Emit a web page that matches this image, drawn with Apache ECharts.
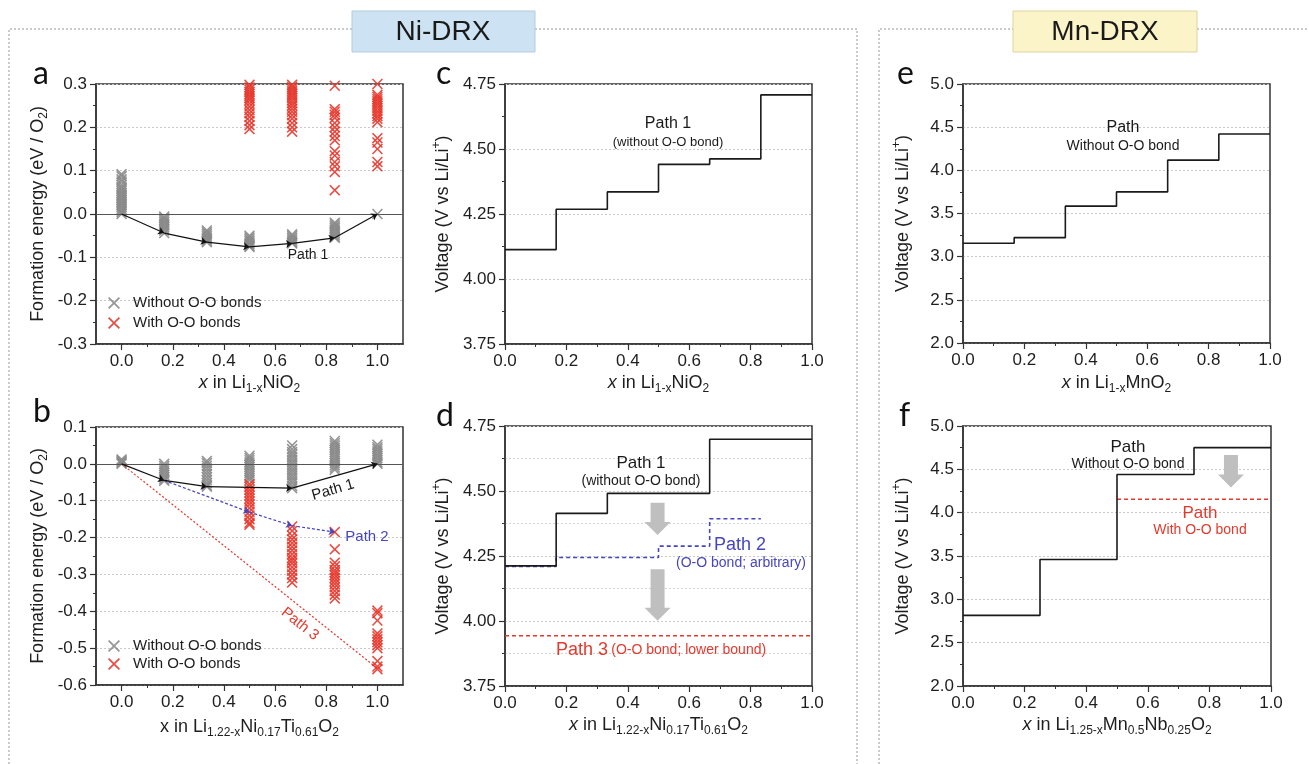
<!DOCTYPE html>
<html><head><meta charset="utf-8">
<script src="https://cdn.jsdelivr.net/npm/echarts@6/dist/echarts.min.js"></script>
<style>html,body{margin:0;padding:0;background:#fff}#c{width:1309px;height:764px}</style>
</head><body><div id="c"></div><script>
// ---------- data ----------
const xPts = [0, 1/6, 1/3, 1/2, 2/3, 5/6, 1];
const xMajor = [0, 0.2, 0.4, 0.6, 0.8, 1.0];
const xMinor = [0.1, 0.3, 0.5, 0.7, 0.9];

// panel a : Li1-xNiO2 formation energies, grouped by xPts
const aWithout = [
  [0.092,0.087,0.080,0.075,0.068,0.062,0.058,0.053,0.048,0.044,0.040,0.036,0.032,0.028,0.024,0.020,0.016,0.012,0.008,0.004,0.0],
  [-0.006,-0.010,-0.014,-0.018,-0.022,-0.026,-0.030,-0.034,-0.038,-0.044],
  [-0.038,-0.042,-0.046,-0.050,-0.054,-0.058,-0.062,-0.065],
  [-0.050,-0.054,-0.058,-0.062,-0.066,-0.070,-0.074,-0.076],
  [-0.047,-0.051,-0.055,-0.059,-0.063,-0.066,-0.068],
  [-0.020,-0.024,-0.028,-0.032,-0.036,-0.040,-0.044,-0.048,-0.052,-0.055],
  [0.0]
];
const aWith = [
  [], [], [],
  [0.298,0.292,0.287,0.282,0.277,0.272,0.267,0.262,0.255,0.248,0.240,0.232,0.224,0.215,0.205,0.196],
  [0.298,0.293,0.288,0.283,0.278,0.273,0.268,0.262,0.256,0.250,0.243,0.236,0.228,0.220,0.210,0.200,0.190],
  [0.296,0.242,0.236,0.229,0.222,0.210,0.200,0.190,0.180,0.170,0.145,0.135,0.120,0.110,0.097,0.055],
  [0.300,0.275,0.270,0.265,0.260,0.255,0.250,0.244,0.238,0.232,0.226,0.220,0.212,0.175,0.165,0.150,0.120,0.110]
];
const aPath1X = [0, 1/6, 1/3, 1/2, 2/3, 5/6, 1];
const aPath1Y = [0, -0.044, -0.065, -0.076, -0.068, -0.055, 0];

// panel b : Li1.22-xNi0.17Ti0.61O2
const bWithout = [
  [0.012,0.009,0.006,0.003,0.0],
  [0.0,-0.006,-0.012,-0.018,-0.024,-0.030,-0.036,-0.042,-0.046],
  [0.008,0.002,-0.005,-0.012,-0.020,-0.028,-0.036,-0.044,-0.052,-0.058,-0.062],
  [0.022,0.016,0.010,0.004,-0.002,-0.008,-0.014,-0.020,-0.026,-0.032,-0.038,-0.044],
  [0.050,0.040,0.032,0.025,0.018,0.011,0.004,-0.003,-0.010,-0.017,-0.024,-0.031,-0.038,-0.045,-0.052,-0.060,-0.066],
  [0.062,0.056,0.050,0.044,0.038,0.032,0.026,0.020,0.014,0.008,0.002,-0.004,-0.010,-0.016],
  [0.052,0.045,0.040,0.034,0.028,0.022,0.016,0.010,0.004,0.0]
];
const bWith = [
  [], [], [],
  [-0.055,-0.062,-0.070,-0.078,-0.086,-0.094,-0.102,-0.110,-0.120,-0.130,-0.140,-0.150,-0.160,-0.165],
  [-0.170,-0.182,-0.195,-0.205,-0.215,-0.225,-0.235,-0.245,-0.255,-0.262,-0.270,-0.280,-0.290,-0.300,-0.310,-0.322],
  [-0.185,-0.232,-0.268,-0.278,-0.288,-0.295,-0.302,-0.310,-0.318,-0.326,-0.335,-0.345,-0.355,-0.365],
  [-0.398,-0.405,-0.425,-0.460,-0.468,-0.476,-0.484,-0.492,-0.500,-0.535,-0.550,-0.557]
];
const bPath1X = [0, 1/6, 1/3, 2/3, 1];
const bPath1Y = [0, -0.045, -0.062, -0.066, 0];
const bPath2X = [1/6, 1/2, 2/3, 5/6];
const bPath2Y = [-0.045, -0.131, -0.168, -0.185];
const bPath3X = [0, 1];
const bPath3Y = [0, -0.555];

// panel c : voltage steps, Li1-xNiO2
const cStepX = [0, 1/6, 1/3, 1/2, 2/3, 5/6];
const cStepV = [4.113, 4.268, 4.335, 4.441, 4.462, 4.708];

// panel d : voltage steps, Li1.22-xNi0.17Ti0.61O2
const dPath1X = [0, 1/6, 1/3, 2/3];
const dPath1V = [4.212, 4.414, 4.491, 4.699];
const dPath2X = [0, 1/6, 1/2, 2/3];
const dPath2V = [4.210, 4.244, 4.288, 4.393];
const dPath2End = 5/6;
const dPath3X = [0, 1];
const dPath3V = [3.943, 3.943];
const dArrows = [[0.497, 4.455, 4.331], [0.497, 4.199, 4.001]];

// panel e : Li1-xMnO2
const eStepX = [0, 1/6, 1/3, 1/2, 2/3, 5/6];
const eStepV = [3.155, 3.220, 3.585, 3.750, 4.118, 4.420];

// panel f : Li1.25-xMn0.5Nb0.25O2
const fStepX = [0, 0.25, 0.5, 0.75];
const fStepV = [2.815, 3.460, 4.440, 4.750];
const fOOX = [0.5, 1];
const fOOV = [4.155, 4.155];
const fArrows = [[0.87, 4.665, 4.29]];

// ---------- style ----------
const FONT = '"Liberation Sans", Arial, sans-serif';
const TXT = '#1e1e1e';
const AX = '#333';
const GRAY = '#8a8a8a';
const RED = '#e5392d';
const BLUE = '#4646c0';
const XSYM = 'path://M0,1L1,0L5,4L9,0L10,1L6,5L10,9L9,10L5,6L1,10L0,9L4,5Z';

const RICH = {
  s: {fontSize: 12, verticalAlign: 'bottom', lineHeight: 12, color: TXT, fontFamily: FONT},
  p: {fontSize: 12, verticalAlign: 'top', lineHeight: 12, color: TXT, fontFamily: FONT},
  i: {fontSize: 18, fontStyle: 'italic', lineHeight: 24, color: TXT, fontFamily: FONT}
};
const nameStyle = {fontSize: 18, color: TXT, fontFamily: FONT, lineHeight: 24, rich: RICH};

function fmt(v, d) { return (Math.abs(v) < 1e-9 ? 0 : v).toFixed(d); }

const grids = [
  {left: 96, top: 84, width: 307, height: 260},
  {left: 96, top: 427, width: 307, height: 258},
  {left: 505, top: 84, width: 307, height: 260},
  {left: 505, top: 426, width: 307, height: 260},
  {left: 963, top: 84, width: 307, height: 259},
  {left: 963, top: 426, width: 308, height: 260}
].map(g => Object.assign(g, {show: true, borderColor: AX, borderWidth: 1.5, backgroundColor: 'transparent'}));

function xMain(gi, name, gap, wide) {
  const ax = {
    gridIndex: gi, type: 'value', position: 'bottom', name: name, nameLocation: 'middle',
    nameGap: gap, nameTextStyle: nameStyle,
    axisLine: {show: true, onZero: false, lineStyle: {color: AX, width: 1.5}},
    axisTick: {show: true, length: 6, lineStyle: {color: AX, width: 1.2}},
    axisLabel: {fontSize: 17, color: TXT, fontFamily: FONT, margin: 9, formatter: v => fmt(v, 1)},
    splitLine: {show: false}
  };
  if (wide) {
    ax.min = -0.1; ax.max = 1.1; ax.interval = 0.1;
    ax.axisTick.customValues = xMajor;
    ax.axisLabel.customValues = xMajor;
  } else {
    ax.min = 0; ax.max = 1; ax.interval = 0.2;
    ax.minorTick = {show: true, splitNumber: 2, length: 3, lineStyle: {color: AX, width: 1}};
  }
  return ax;
}
function xMinorAx(gi) {
  return {gridIndex: gi, type: 'value', position: 'bottom', min: -0.1, max: 1.1, interval: 0.1,
    axisLine: {show: false, onZero: false}, axisLabel: {show: false}, splitLine: {show: false},
    axisTick: {show: true, length: 3, customValues: xMinor, lineStyle: {color: AX, width: 1}}};
}
function yAx(gi, min, max, interval, dec, name, gap, minorSplit) {
  return {
    gridIndex: gi, type: 'value', min: min, max: max, interval: interval,
    name: name, nameLocation: 'middle', nameGap: gap, nameTextStyle: nameStyle,
    axisLine: {show: true, onZero: false, lineStyle: {color: AX, width: 1.5}},
    axisTick: {show: true, length: 6, lineStyle: {color: AX, width: 1.2}},
    minorTick: {show: true, splitNumber: 2, length: 3, lineStyle: {color: AX, width: 1}},
    axisLabel: {fontSize: 17, color: TXT, fontFamily: FONT, margin: 9, formatter: v => fmt(v, dec)},
    splitLine: {show: true, lineStyle: {color: '#c9c9c9', type: [2, 2], width: 1}},
    minorSplitLine: {show: !!minorSplit, lineStyle: {color: '#d2d2d2', type: [2, 2], width: 1}}
  };
}

const FE = 'Formation energy (eV / O{s|2})';
const VL = 'Voltage (V vs Li/Li{p|+})';

const xAxis = [
  xMain(0, '{i|x} in Li{s|1-x}NiO{s|2}', 26, true),
  xMain(1, 'x in Li{s|1.22-x}Ni{s|0.17}Ti{s|0.61}O{s|2}', 30, true),
  xMain(2, '{i|x} in Li{s|1-x}NiO{s|2}', 27, false),
  xMain(3, '{i|x} in Li{s|1.22-x}Ni{s|0.17}Ti{s|0.61}O{s|2}', 27, false),
  xMain(4, '{i|x} in Li{s|1-}{s|x}MnO{s|2}', 28, false),
  xMain(5, '{i|x} in Li{s|1.25-x}Mn{s|0.5}Nb{s|0.25}O{s|2}', 27, false),
  xMinorAx(0),
  xMinorAx(1)
];
const yAxis = [
  yAx(0, -0.3, 0.3, 0.1, 1, FE, 46, false),
  yAx(1, -0.6, 0.1, 0.1, 1, FE, 46, false),
  yAx(2, 3.75, 4.75, 0.25, 2, VL, 50, false),
  yAx(3, 3.75, 4.75, 0.25, 2, VL, 50, true),
  yAx(4, 2.0, 5.0, 0.5, 1, VL, 48, false),
  yAx(5, 2.0, 5.0, 0.5, 1, VL, 48, false)
];

// ---------- builders ----------
function cloud(groups) {
  const d = [];
  groups.forEach((arr, i) => arr.forEach(v => d.push([xPts[i], v])));
  return d;
}
function pairs(xs, ys) { return xs.map((x, i) => [x, ys[i]]); }
function segs(xs, ys) {
  const r = [];
  for (let i = 0; i < xs.length - 1; i++) r.push({coords: [[xs[i], ys[i]], [xs[i + 1], ys[i + 1]]]});
  return r;
}
function stepData(xs, vs, end) {
  const d = pairs(xs, vs);
  d.push([end, vs[vs.length - 1]]);
  return d;
}
const zeroLine = {silent: true, symbol: 'none', label: {show: false},
  lineStyle: {color: '#555', type: 'solid', width: 1}, data: [{yAxis: 0}]};

function scatter(name, gi, groups, color, extra) {
  return Object.assign({
    type: 'scatter', name: name, xAxisIndex: gi, yAxisIndex: gi, data: cloud(groups),
    symbol: XSYM, symbolSize: 11, itemStyle: {color: color, opacity: 0.9}, silent: true, z: 2
  }, extra || {});
}
function pathLines(gi, xs, ys, color, type, arrow) {
  return {type: 'lines', coordinateSystem: 'cartesian2d', xAxisIndex: gi, yAxisIndex: gi,
    data: segs(xs, ys), symbol: arrow ? ['none', 'arrow'] : ['none', 'none'], symbolSize: 6,
    lineStyle: {color: color, width: 1.2, type: type, opacity: 1, curveness: 0}, silent: true, z: 5};
}
function stepLine(gi, data, color, type) {
  return {type: 'line', step: 'end', xAxisIndex: gi, yAxisIndex: gi, data: data, symbol: 'none',
    lineStyle: {color: color, width: 1.6, type: type}, silent: true, z: 4};
}
function arrows(gi, data) {
  return {type: 'custom', coordinateSystem: 'cartesian2d', xAxisIndex: gi, yAxisIndex: gi,
    data: data, encode: {x: 0, y: [1, 2]}, silent: true, z: 3,
    renderItem: function (params, api) {
      const top = api.coord([api.value(0), api.value(1)]);
      const tip = api.coord([api.value(0), api.value(2)]);
      const x = top[0], hw = 7, hh = 13, neck = tip[1] - 13;
      return {type: 'polygon', shape: {points: [[x - hw, top[1]], [x + hw, top[1]], [x + hw, neck],
        [x + hh, neck], [x, tip[1]], [x - hh, neck], [x - hw, neck]]}, style: {fill: '#bfbfbf'}};
    }};
}

const series = [
  scatter('Without O-O bonds', 0, aWithout, GRAY, {markLine: zeroLine}),
  scatter('With O-O bonds', 0, aWith, RED),
  pathLines(0, aPath1X, aPath1Y, '#111', 'solid', true),

  scatter('Without O-O bonds', 1, bWithout, GRAY, {markLine: zeroLine}),
  scatter('With O-O bonds', 1, bWith, RED),
  pathLines(1, bPath3X, bPath3Y, RED, [2, 2], false),
  pathLines(1, bPath2X, bPath2Y, BLUE, [3, 2], true),
  pathLines(1, bPath1X, bPath1Y, '#111', 'solid', true),

  stepLine(2, stepData(cStepX, cStepV, 1), '#1a1a1a', 'solid'),

  arrows(3, dArrows),
  {type: 'line', xAxisIndex: 3, yAxisIndex: 3, data: pairs(dPath3X, dPath3V), symbol: 'none',
    lineStyle: {color: RED, width: 1.6, type: [4, 3]}, silent: true, z: 4},
  stepLine(3, stepData(dPath2X, dPath2V, dPath2End), BLUE, [4, 3]),
  stepLine(3, stepData(dPath1X, dPath1V, 1), '#1a1a1a', 'solid'),

  stepLine(4, stepData(eStepX, eStepV, 1), '#1a1a1a', 'solid'),

  arrows(5, fArrows),
  {type: 'line', xAxisIndex: 5, yAxisIndex: 5, data: pairs(fOOX, fOOV), symbol: 'none',
    lineStyle: {color: RED, width: 1.6, type: [4, 3]}, silent: true, z: 4},
  stepLine(5, stepData(fStepX, fStepV, 1), '#1a1a1a', 'solid')
];

// ---------- annotations ----------
function T(x, y, text, size, color, extra) {
  return Object.assign({type: 'text', x: x, y: y, z: 50, silent: true,
    style: {text: text, fontSize: size, fontFamily: FONT, fill: color,
      align: 'center', verticalAlign: 'middle', textAlign: 'center', textVerticalAlign: 'middle'}}, extra || {});
}
function L(x, y, text) {
  return {type: 'text', x: x, y: y, z: 50, silent: true,
    style: {text: text, fontSize: 32, fontFamily: 'Lato, "Open Sans", sans-serif', fill: '#111',
      align: 'left', verticalAlign: 'bottom', textAlign: 'left', textVerticalAlign: 'bottom'}};
}
const dotStyle = {stroke: '#b9b9b9', lineWidth: 1.5, lineDash: [2, 2], fill: null};
const graphic = [
  {type: 'polyline', z: 1, silent: true, shape: {points: [[9, 764], [9, 29], [352, 29]]}, style: dotStyle},
  {type: 'polyline', z: 1, silent: true, shape: {points: [[535, 29], [857, 29], [857, 764]]}, style: dotStyle},
  {type: 'polyline', z: 1, silent: true, shape: {points: [[879, 764], [879, 29], [1013, 29]]}, style: dotStyle},
  {type: 'polyline', z: 1, silent: true, shape: {points: [[1197, 29], [1309, 29]]}, style: dotStyle},
  {type: 'rect', z: 2, silent: true, shape: {x: 352, y: 11, width: 183, height: 41},
    style: {fill: '#cde3f4', stroke: '#b4cadd', lineWidth: 1}},
  {type: 'rect', z: 2, silent: true, shape: {x: 1013, y: 11, width: 184, height: 41},
    style: {fill: '#fbf4c9', stroke: '#dcd3a2', lineWidth: 1}},
  T(443, 32, 'Ni-DRX', 28, '#1a1a1a'),
  T(1105, 32, 'Mn-DRX', 28, '#1a1a1a'),
  L(33, 90, 'a'), L(33, 428, 'b'), L(436, 90, 'c'), L(436, 432, 'd'), L(897, 90, 'e'), L(899, 432, 'f'),

  T(308, 255, 'Path 1', 14, '#1a1a1a'),
  T(333, 490, 'Path 1', 15, '#1a1a1a', {rotation: 0.28}),
  T(367, 537, 'Path 2', 15, BLUE),
  T(300, 624, 'Path 3', 15, RED, {rotation: -0.675}),

  T(668, 124, 'Path 1', 16, '#1a1a1a'),
  T(668, 142, '(without O-O bond)', 13, '#1a1a1a'),

  T(641, 463, 'Path 1', 17, '#1a1a1a'),
  T(641, 481, '(without O-O bond)', 14, '#1a1a1a'),
  T(740, 545, 'Path 2', 18, BLUE),
  T(741, 563, '(O-O bond; arbitrary)', 14, BLUE),
  {type: 'text', x: 661, y: 650, z: 50, silent: true,
    style: {text: '{a|Path 3} {b|(O-O bond; lower bound)}', align: 'center', verticalAlign: 'middle',
      textAlign: 'center', textVerticalAlign: 'middle', fill: RED,
      rich: {a: {fontSize: 18, fontFamily: FONT, fill: RED, color: RED},
             b: {fontSize: 14, fontFamily: FONT, fill: RED, color: RED}}}},

  T(1123, 128, 'Path', 16, '#1a1a1a'),
  T(1123, 146, 'Without O-O bond', 14, '#1a1a1a'),
  T(1128, 447, 'Path', 17, '#1a1a1a'),
  T(1128, 464, 'Without O-O bond', 14, '#1a1a1a'),
  T(1200, 513, 'Path', 17, RED),
  T(1200, 530, 'With O-O bond', 14, RED)
];

const legendBase = {data: ['Without O-O bonds', 'With O-O bonds'], orient: 'vertical',
  itemWidth: 28, itemHeight: 12, itemGap: 4, selectedMode: false,
  textStyle: {fontSize: 15, color: TXT, fontFamily: FONT, lineHeight: 16}};

const option = {
  animation: false,
  backgroundColor: '#fff',
  textStyle: {fontFamily: FONT},
  grid: grids,
  xAxis: xAxis,
  yAxis: yAxis,
  legend: [
    Object.assign({left: 103, top: 290}, legendBase),
    Object.assign({left: 103, top: 633}, legendBase, {itemGap: 2})
  ],
  series: series,
  graphic: graphic
};
const chart = echarts.init(document.getElementById('c'), null, {renderer: 'canvas', width: 1309, height: 764});
chart.setOption(option);
</script></body></html>
